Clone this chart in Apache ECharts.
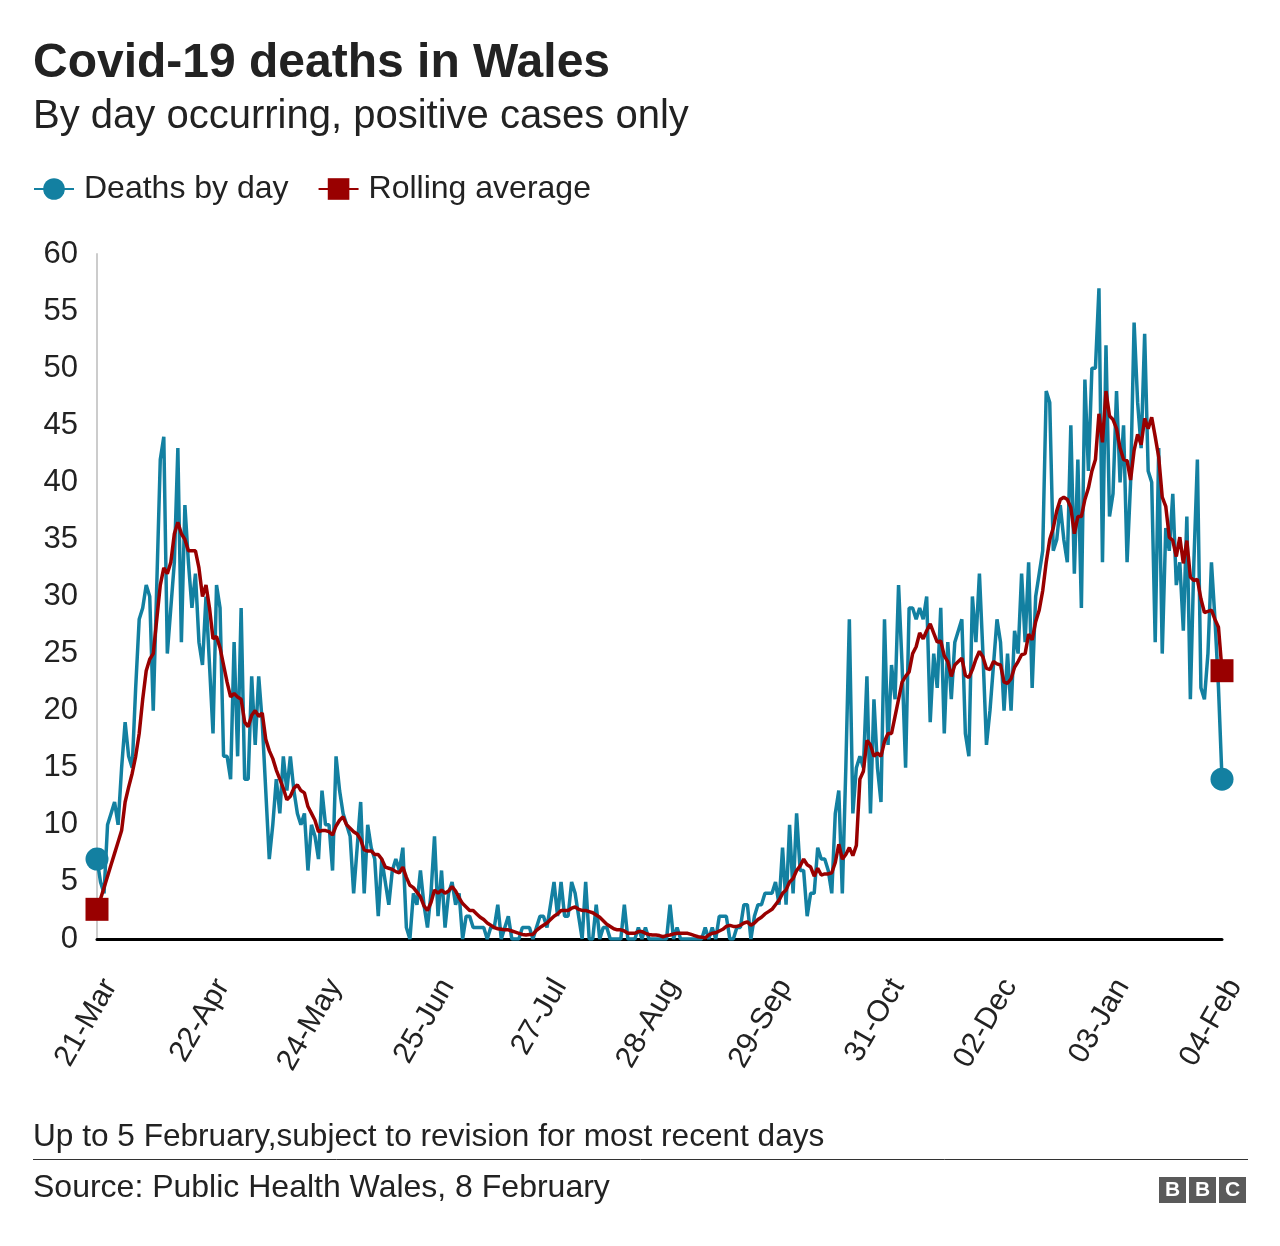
<!DOCTYPE html>
<html><head><meta charset="utf-8">
<script src="https://cdn.jsdelivr.net/npm/echarts/dist/echarts.min.js"></script>
<style>html,body{margin:0;padding:0;background:#fff}#c{width:1280px;height:1246px}</style>
</head><body><div id="c"></div>
<script>
const tickLabels = ["21-Mar","22-Apr","24-May","25-Jun","27-Jul","28-Aug","29-Sep","31-Oct","02-Dec","03-Jan","04-Feb"];
const tickEvery = 32;
const deathsByDay = [
7,5,4,10,11,12,10,15,19,16,
15,22,28,29,31,30,20,31,42,44,
25,29,33,43,26,38,33,29,32,26,
24,30,24,18,31,29,16,16,14,26,
16,29,14,14,23,17,23,19,13,7,
10,14,11,16,13,16,13,11,10,11,
6,10,9,7,13,10,10,6,16,13,
11,10,9,4,8,12,4,10,8,7,
2,7,5,3,6,7,6,8,1,0,
4,3,6,3,1,4,9,2,6,1,
4,5,3,4,0,2,2,1,1,1,
1,0,1,1,3,0,1,2,0,0,
0,1,1,1,0,1,2,2,1,3,
5,2,5,2,2,5,4,2,0,5,
0,0,3,0,1,1,0,0,0,0,
3,0,0,0,1,0,1,0,0,0,
0,0,0,3,0,1,0,0,0,0,
0,0,0,1,0,1,0,2,2,2,
0,0,1,1,3,3,0,2,3,3,
4,4,4,5,3,8,3,10,4,11,
6,6,2,4,4,8,7,7,6,4,
11,13,4,15,28,11,15,16,15,23,
11,21,15,12,28,17,24,21,31,24,
15,29,29,28,29,28,30,19,25,22,
29,18,26,21,26,27,28,18,16,30,
26,32,25,17,20,24,28,26,20,25,
20,27,25,32,26,33,22,30,32,34,
48,47,34,35,38,35,33,45,32,42,
29,49,41,50,50,57,33,52,37,39,
48,40,45,33,40,54,47,43,53,41,
40,26,43,25,36,34,39,31,33,27,
37,21,33,42,22,21,25,33,28,22,
14];
const rollingAverage = [
2.6,3.5,4.5,5.5,6.5,7.5,8.5,9.5,12,13.3,
14.5,16,18,21,23.5,24.5,25,28,31,32.5,
32,33,35.5,36.5,35.5,35,34,34,34,32.5,
30,31,29,26.3,26.5,25.5,24,22.5,21.2,21.5,
21.2,21,19,18.6,19.6,20,19.5,19.8,17.5,16.5,
15.8,14.8,14,13.2,12.2,12.5,13.2,13.5,13,12.8,
11.6,11,10.4,9.4,9.5,9.5,9.4,9.1,9.9,10.4,
10.7,10,9.7,9.4,9.2,8.7,7.8,7.7,7.7,7.4,
7.4,7,6.3,6.2,6.1,5.9,5.8,6.3,5.4,4.7,
4.5,4.1,3.7,2.9,2.5,3.2,4.3,4,4.3,4,
4.2,4.6,4.2,3.6,3.1,2.8,2.5,2.5,2.2,1.9,
1.7,1.4,1.2,1,0.9,0.85,0.8,0.8,0.7,0.6,
0.5,0.4,0.35,0.4,0.4,0.75,1,1.2,1.4,1.7,
2,2.2,2.5,2.5,2.5,2.7,2.8,2.6,2.5,2.5,
2.4,2.3,2.1,1.9,1.6,1.3,1.1,0.9,0.8,0.8,
0.7,0.5,0.5,0.5,0.65,0.65,0.5,0.4,0.35,0.35,
0.3,0.2,0.3,0.35,0.45,0.5,0.5,0.5,0.5,0.4,
0.3,0.2,0.15,0.1,0.35,0.5,0.55,0.7,0.85,1.1,
1.2,1.1,1.1,1.2,1.4,1.5,1.2,1.4,1.7,1.9,
2.2,2.4,2.6,3,3.4,4,4.3,5,5.3,6,
6.4,7,6.5,6.3,5.5,6.2,5.6,5.7,5.7,5.8,
6.7,8.3,7,7.4,8,7.3,8.2,14,14.7,17.4,
17,16,16.3,16,17.3,18,18,19.5,21,22.5,
23,23.4,25,25.6,26.8,26.3,27,27.6,26.8,26,
26.1,24.8,24.3,23,24,24.3,24.6,23.1,22.9,23.6,
24.5,25.2,24.7,23.7,23.6,24.3,24.1,24,22.5,22.4,
22.8,23.8,24.3,24.9,25,26.7,26.2,27.8,28.8,30.5,
33,35,36,37.5,38.5,38.7,38.5,37.8,35.5,37,
37,38.5,39.5,41,42,46,43.5,48,45.8,45.5,
44.7,43,42,41.9,40.2,42.8,44.2,43.3,45.6,44.7,
45.7,44,42.2,38.7,37.9,35.2,34.9,33.5,35.2,32.9,
34.9,31.7,31.4,31.5,29.8,28.6,28.7,28.8,28,27.3,
23.5];
const titleText = "Covid-19 deaths in Wales";
const subtitleText = "By day occurring, positive cases only";
const noteText = "Up to 5 February,subject to revision for most recent days";
const sourceText = "Source: Public Health Wales, 8 February";

const FONT = '"Liberation Sans", Arial, Helvetica, sans-serif';
const BLUE = '#1380A1', RED = '#990000', INK = '#222222';

function toPoints(arr) {
  const last = arr.length - 1;
  return arr.map((v, i) => (i === 0 || i === last) ? {value: [i, v], symbolSize: 23} : [i, v]);
}

const chart = echarts.init(document.getElementById('c'), null, {renderer: 'canvas'});
chart.setOption({
  animation: false,
  backgroundColor: '#ffffff',
  textStyle: {fontFamily: FONT},
  title: [
    {text: titleText, left: 33, top: 40, padding: 0, textStyle: {fontFamily: FONT, fontSize: 48, fontWeight: 'bold', color: INK}},
    {text: subtitleText, left: 33, top: 97, padding: 0, textStyle: {fontFamily: FONT, fontSize: 40, fontWeight: 'normal', color: INK}}
  ],
  legend: {
    left: 33, top: 173, padding: 0, itemWidth: 40, itemHeight: 27, itemGap: 29,
    textStyle: {fontFamily: FONT, fontSize: 32, color: INK, padding: [0, 0, 0, 5]},
    data: ['Deaths by day', 'Rolling average']
  },
  grid: {left: 97, right: 58, top: 254, bottom: 307, containLabel: false, outerBoundsMode: 'none'},
  xAxis: {
    type: 'value', min: 0, max: 320, interval: tickEvery,
    axisLine: {show: true, onZero: true, lineStyle: {color: '#000000', width: 3}},
    axisTick: {show: false},
    splitLine: {show: false},
    axisLabel: {
      formatter: v => tickLabels[Math.round(v / tickEvery)] || '',
      rotate: 60, align: 'right', verticalAlign: 'top', margin: 35,
      fontFamily: FONT, fontSize: 30, color: INK
    }
  },
  yAxis: {
    type: 'value', min: 0, max: 60, interval: 5,
    axisLine: {show: true, lineStyle: {color: '#cccccc', width: 2}},
    axisTick: {show: false},
    splitLine: {show: false},
    axisLabel: {margin: 19, fontFamily: FONT, fontSize: 31, color: INK}
  },
  series: [
    {
      name: 'Deaths by day', type: 'line', data: toPoints(deathsByDay),
      symbol: 'circle', symbolSize: 0, showSymbol: true,
      lineStyle: {color: BLUE, width: 3.5}, itemStyle: {color: BLUE}, z: 3
    },
    {
      name: 'Rolling average', type: 'line', data: toPoints(rollingAverage),
      symbol: 'rect', symbolSize: 0, showSymbol: true,
      lineStyle: {color: RED, width: 3.5}, itemStyle: {color: RED}, z: 4
    }
  ],
  graphic: [
    {type: 'text', left: 33, top: 1121, style: {text: noteText, font: '31.6px ' + FONT, fill: INK}},
    {type: 'line', shape: {x1: 33, y1: 1159.5, x2: 1248, y2: 1159.5}, style: {stroke: '#333333', lineWidth: 1}},
    {type: 'text', left: 33, top: 1172, style: {text: sourceText, font: '32px ' + FONT, fill: INK}},
    {type: 'group', left: 1159, top: 1177, children: [
      {type: 'rect', shape: {x: 0, y: 0, width: 27, height: 26}, style: {fill: '#5a5a5a'}},
      {type: 'rect', shape: {x: 30, y: 0, width: 27, height: 26}, style: {fill: '#5a5a5a'}},
      {type: 'rect', shape: {x: 60, y: 0, width: 27, height: 26}, style: {fill: '#5a5a5a'}},
      {type: 'text', x: 13.5, y: 13.5, style: {text: 'B', font: 'bold 21px ' + FONT, fill: '#fff', align: 'center', verticalAlign: 'middle'}},
      {type: 'text', x: 43.5, y: 13.5, style: {text: 'B', font: 'bold 21px ' + FONT, fill: '#fff', align: 'center', verticalAlign: 'middle'}},
      {type: 'text', x: 73.5, y: 13.5, style: {text: 'C', font: 'bold 21px ' + FONT, fill: '#fff', align: 'center', verticalAlign: 'middle'}}
    ]}
  ]
});
</script>
</body></html>
